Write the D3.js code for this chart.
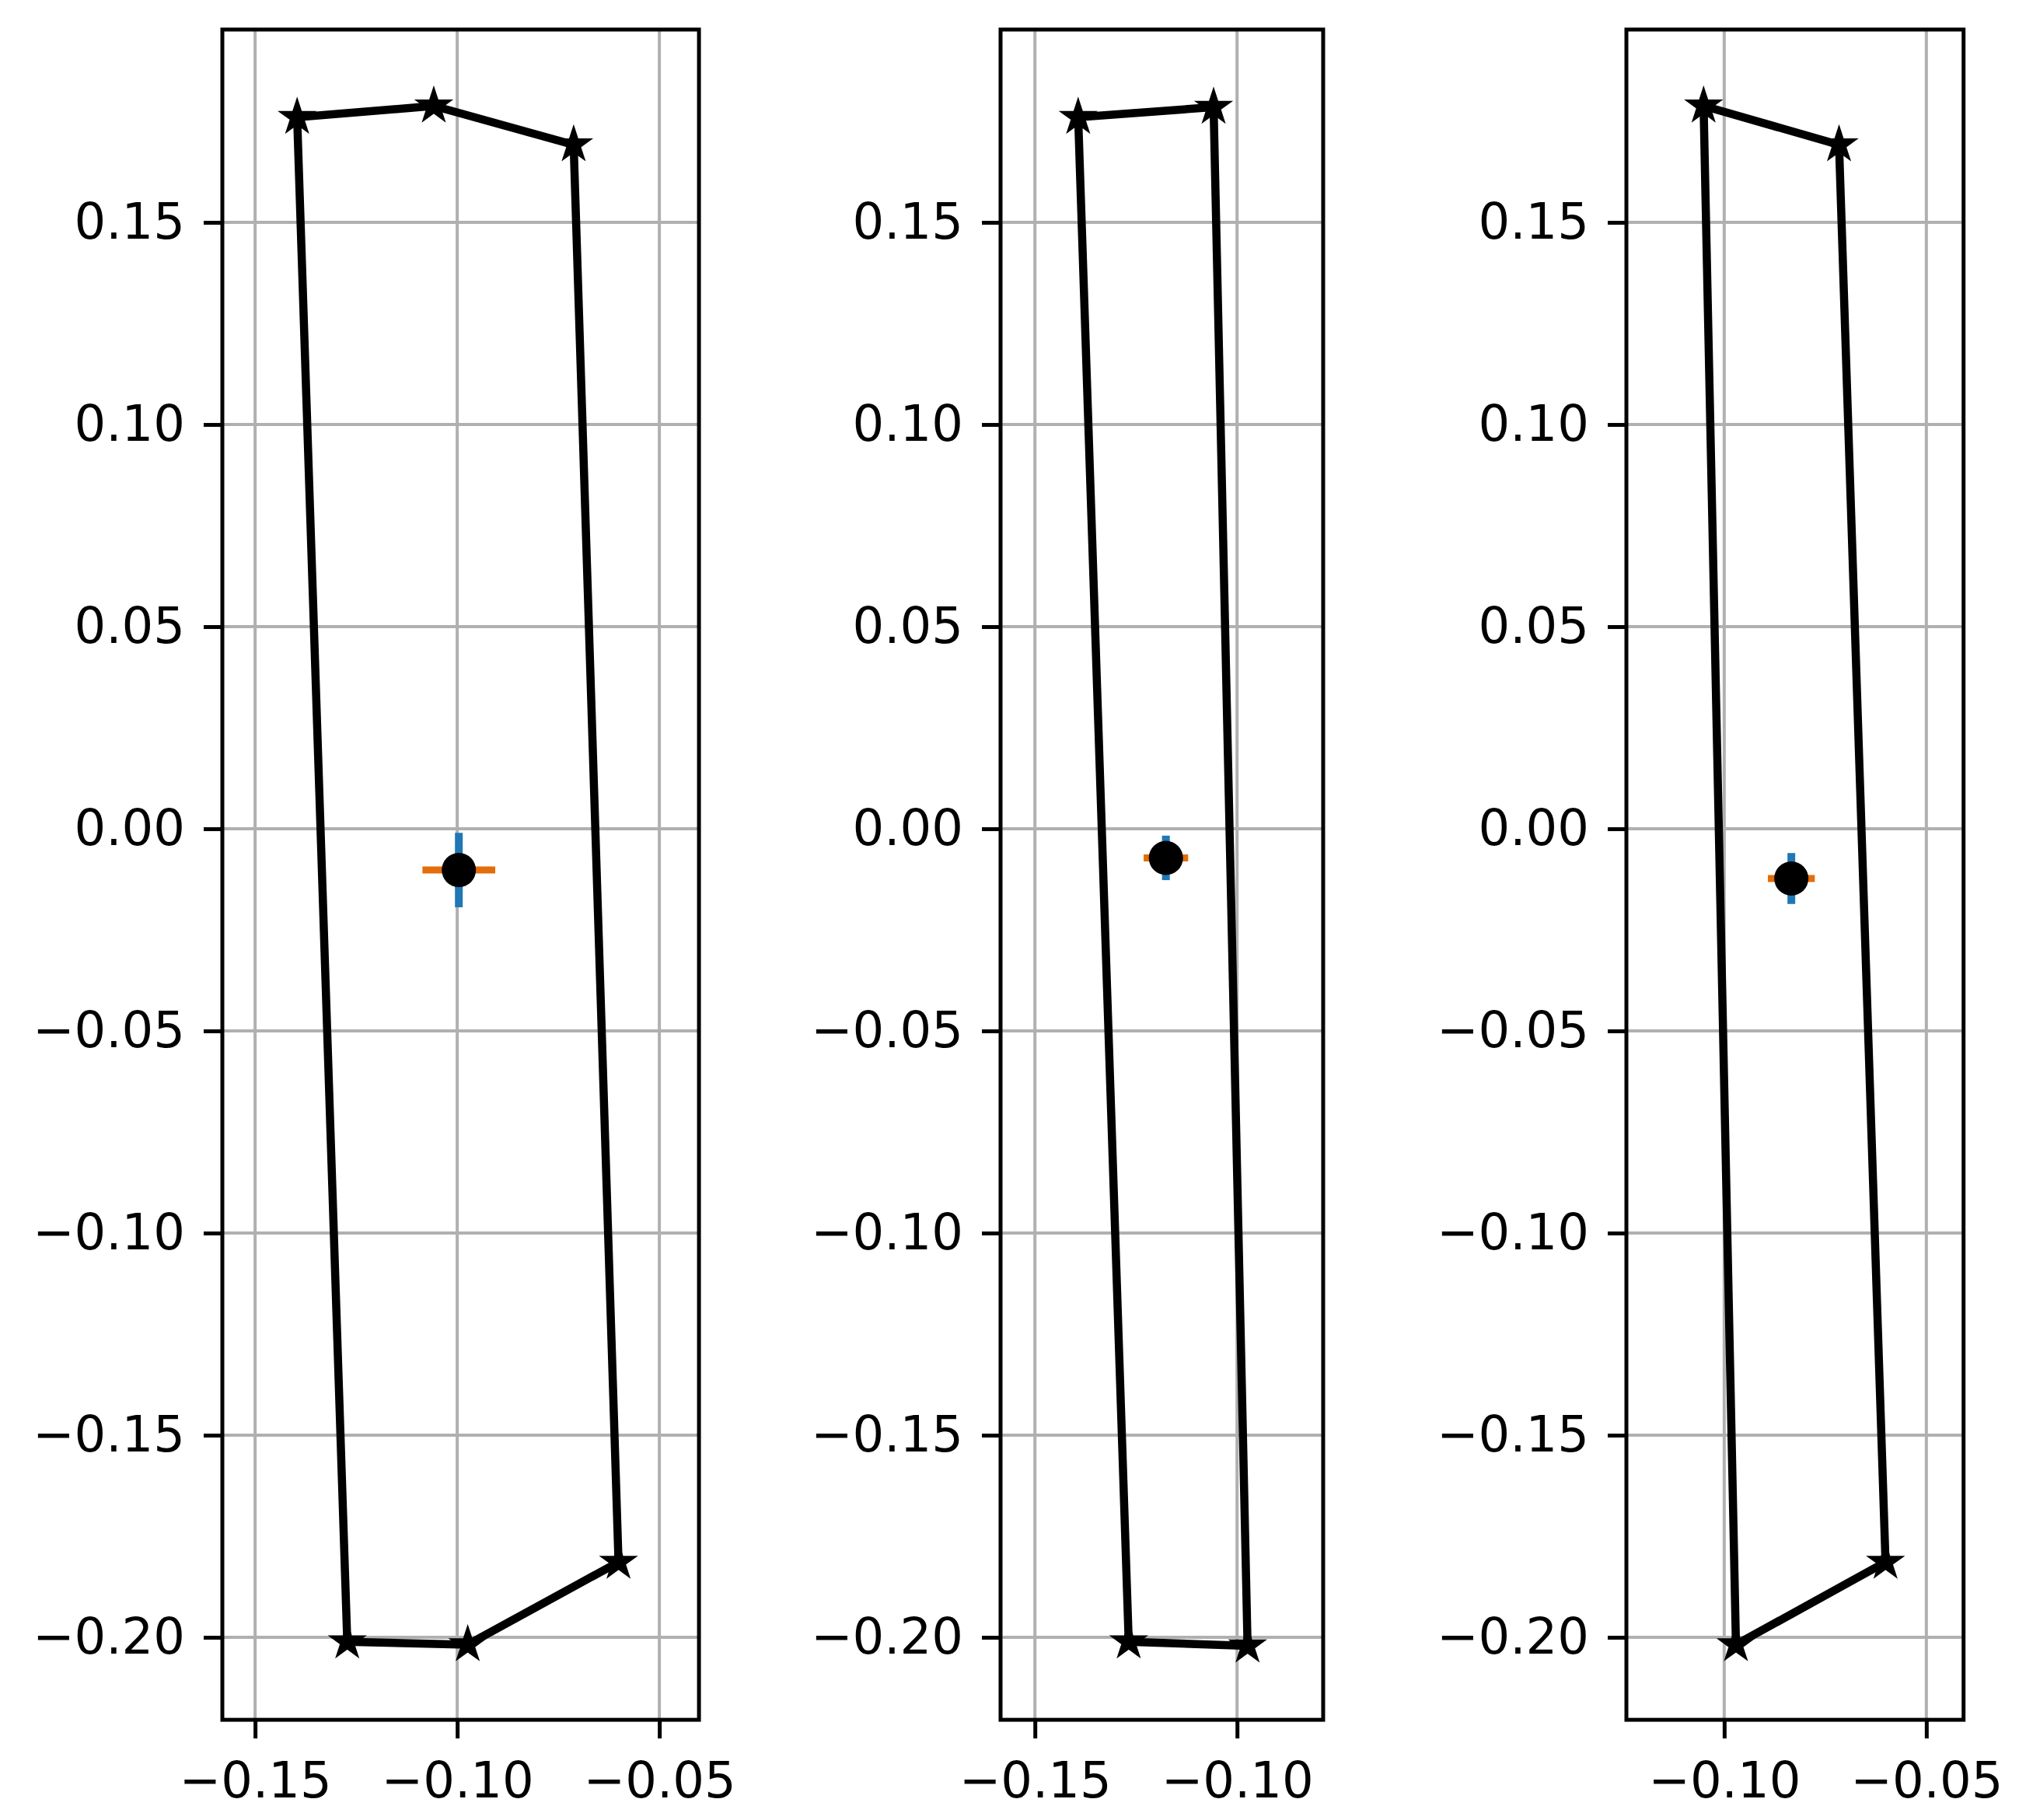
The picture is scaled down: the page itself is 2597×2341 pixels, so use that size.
<head>
    <meta charset="utf-8">
    <script src="https://d3js.org/d3.v7.min.js"></script>
    <style>
        body { margin: 0; background: #fff; }
        text { font-family: "DejaVu Sans", sans-serif; }
    </style>
</head>

<body>
    <div id="app"></div>
</body>

<script>
    // polygon corners per panel (closed back to the first point)
    const panel1X = [-0.1396, -0.1058, -0.0712, -0.0601, -0.0974, -0.1272];
    const panel1Y = [0.1760, 0.1788, 0.1692, -0.1814, -0.2018, -0.2011];
    const panel2X = [-0.1393, -0.1058, -0.0974, -0.1268];
    const panel2Y = [0.1760, 0.1785, -0.2021, -0.2011];
    const panel3X = [-0.1051, -0.0716, -0.0601, -0.0971];
    const panel3Y = [0.1788, 0.1692, -0.1814, -0.2018];

    // centre point and its error bars
    const centerX = [-0.0996, -0.1176, -0.0834];
    const centerY = [-0.0102, -0.0072, -0.0123];
    const errX = [0.0090, 0.0055, 0.0058];
    const errY = [0.0092, 0.0055, 0.0063];

    // axes
    const xDomains = [[-0.1581, -0.0402], [-0.1585, -0.0787], [-0.1242, -0.0408]];
    const yDomain = [-0.2204, 0.1977];
    const xTicks = [[-0.15, -0.10, -0.05], [-0.15, -0.10], [-0.10, -0.05]];
    const yTicks = [0.15, 0.10, 0.05, 0.00, -0.05, -0.10, -0.15, -0.20];

    const W = 2597, H = 2341;
    const k = 5200;                       // pixels per data unit (equal aspect)
    const topY = 38;
    const lefts = [286, 1287, 2092];
    const fmt = d3.format(".2f");

    const svg = d3.select("#app").append("svg")
        .attr("width", W).attr("height", H);

    const panels = [
        { xs: panel1X, ys: panel1Y },
        { xs: panel2X, ys: panel2Y },
        { xs: panel3X, ys: panel3Y }
    ];

    panels.forEach((p, i) => {
        const xd = xDomains[i];
        const w = (xd[1] - xd[0]) * k;
        const h = (yDomain[1] - yDomain[0]) * k;
        const x = d3.scaleLinear().domain(xd).range([0, w]);
        const y = d3.scaleLinear().domain(yDomain).range([h, 0]);
        const g = svg.append("g").attr("transform", `translate(${lefts[i]},${topY})`);

        // grid
        g.append("g").selectAll("line").data(xTicks[i]).join("line")
            .attr("x1", d => x(d)).attr("x2", d => x(d))
            .attr("y1", 0).attr("y2", h)
            .attr("stroke", "#b0b0b0").attr("stroke-width", 4);
        g.append("g").selectAll("line").data(yTicks).join("line")
            .attr("x1", 0).attr("x2", w)
            .attr("y1", d => y(d)).attr("y2", d => y(d))
            .attr("stroke", "#b0b0b0").attr("stroke-width", 4);

        // polygon
        const pts = p.xs.map((v, j) => [v, p.ys[j]]);
        g.append("path")
            .datum(pts)
            .attr("d", d3.line().x(d => x(d[0])).y(d => y(d[1])).curve(d3.curveLinearClosed))
            .attr("fill", "none")
            .attr("stroke", "#000")
            .attr("stroke-width", 10.5)
            .attr("stroke-linejoin", "round");

        g.append("g").selectAll("path").data(pts).join("path")
            .attr("d", d3.symbol().type(d3.symbolStar).size(20 * 20 / 0.8908))
            .attr("transform", d => `translate(${x(d[0])},${y(d[1])})`)
            .attr("fill", "#000")
            .attr("stroke", "#000").attr("stroke-width", 4).attr("stroke-linejoin", "miter");

        // error bars
        const cx = centerX[i], cy = centerY[i];
        g.append("line")
            .attr("x1", x(cx)).attr("x2", x(cx))
            .attr("y1", y(cy - errY[i])).attr("y2", y(cy + errY[i]))
            .attr("stroke", "#1f77b4").attr("stroke-width", 10);
        g.append("line")
            .attr("x1", x(cx - errX[i])).attr("x2", x(cx + errX[i]))
            .attr("y1", y(cy)).attr("y2", y(cy))
            .attr("stroke", "#e36d0a").attr("stroke-width", 9);
        g.append("circle")
            .attr("cx", x(cx)).attr("cy", y(cy)).attr("r", 22)
            .attr("fill", "#000");

        // frame
        g.append("rect")
            .attr("width", w).attr("height", h)
            .attr("fill", "none").attr("stroke", "#000").attr("stroke-width", 5);

        // axes
        const ax = g.append("g")
            .attr("transform", `translate(0,${h})`)
            .call(d3.axisBottom(x).tickValues(xTicks[i]).tickFormat(fmt).tickSize(24).tickPadding(16));
        ax.selectAll("text").attr("dy", "0.93em");
        const ay = g.append("g")
            .call(d3.axisLeft(y).tickValues(yTicks).tickFormat(fmt).tickSize(24).tickPadding(24));
        [ax, ay].forEach(a => {
            a.select(".domain").remove();
            a.selectAll("line").attr("stroke", "#000").attr("stroke-width", 5);
            a.selectAll("text")
                .attr("fill", "#000")
                .style("font-size", "64px")
                .style("font-family", "'DejaVu Sans', sans-serif");
        });
    });
</script>
